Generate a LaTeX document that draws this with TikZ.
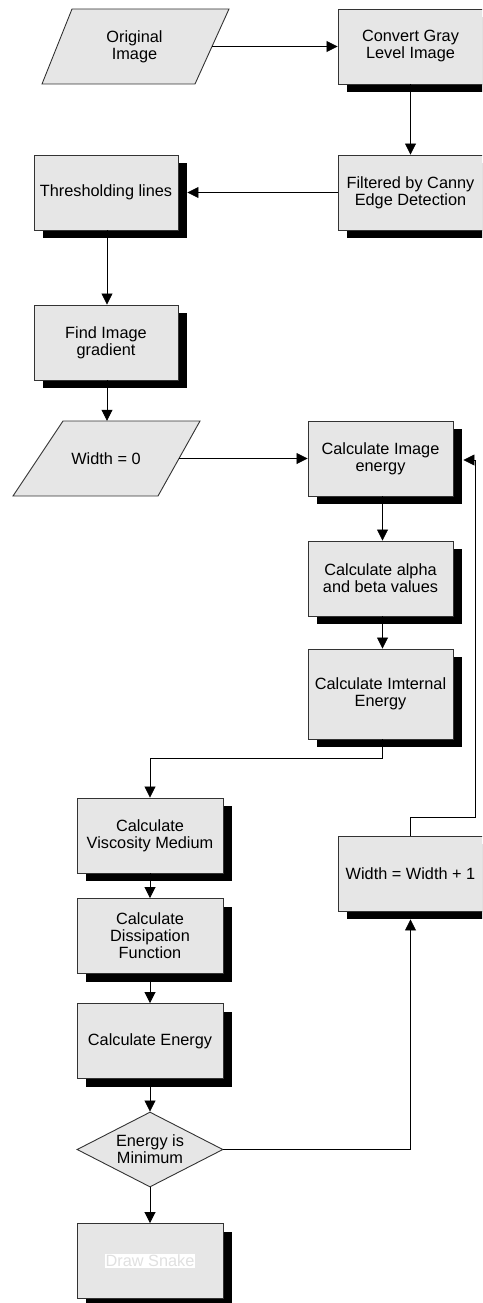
\documentclass[tikz,border=0pt]{standalone}
\usepackage{fontspec}
\setmainfont{Liberation Sans}
\usetikzlibrary{shapes.geometric,shadows,arrows.meta}

\definecolor{boxfill}{HTML}{E6E6E6}
\definecolor{edge}{HTML}{333333}

\tikzset{
  txt/.style={align=center, font=\fontsize{16.3}{17}\selectfont, inner sep=0pt},
  base/.style={txt, draw=edge, line width=0.9pt, fill=boxfill},
  procbox/.style={base, rectangle, minimum width=145pt, minimum height=75pt,
    drop shadow={shadow xshift=8.5pt, shadow yshift=-8pt, fill=black, opacity=1}},
  ioshape/.style={draw=edge, line width=0.9pt, fill=boxfill},
  iobox/.style={txt, rectangle, minimum height=75pt},
  decision/.style={base, diamond, aspect=1.95, minimum width=146pt, minimum height=75pt},
  flow/.style={draw=black, line width=0.8pt, -{Triangle[length=11pt,width=11pt]}},
}

\begin{document}
\begin{tikzpicture}[x=1pt, y=-1pt]
\useasboundingbox (0,0) rectangle (482,1303);
\clip (0,0) rectangle (482,1303);

% input / output parallelograms, with a text node spanning their side midpoints
\draw[ioshape] (72,9) -- (229,9) -- (195,84) -- (42,84) -- cycle;
\node[iobox, minimum width=155pt] (orig) at (134.5,46.5) {Original\\Image};
\draw[ioshape] (63,421) -- (200,421) -- (158,496) -- (13,496) -- cycle;
\node[iobox, minimum width=141pt, text depth=0pt] (wzero) at (108.5,458.5) {};
\node[txt] (wzerotxt) at (106,458.5) {Width = 0};

% process boxes
\node[procbox] (conv)   at (410.5,46.5)  {Convert Gray\\Level Image};
\node[procbox] (canny)  at (410.5,192.5) {Filtered by Canny\\Edge Detection};
\node[procbox, minimum width=144pt] (thresh) at (106,192.5) {Thresholding lines};
\node[procbox, minimum width=144pt] (grad)   at (106,342.5) {Find Image\\gradient};
\node[procbox] (energy) at (380.5,458.5) {Calculate Image\\energy};
\node[procbox] (alpha)  at (380.5,578.5) {Calculate alpha\\and beta values};
\node[procbox, minimum height=90pt] (intern) at (380.5,694) {Calculate Imternal\\Energy};
\node[procbox, minimum width=146pt] (visc)   at (150,835.5) {Calculate\\Viscosity Medium};
\node[procbox, minimum width=146pt] (dissip) at (150,936)   {Calculate\\Dissipation\\Function};
\node[procbox, minimum width=146pt] (calce)  at (150,1041)  {Calculate Energy};
\node[decision] (minq) at (150,1149.5) {Energy is\\Minimum};
\node[procbox, minimum width=146pt] (snake)  at (150,1261)  {};
\node[txt, fill=white, text=black!12, inner sep=1pt] (snaketxt) at (snake.center) {Draw Snake};
\node[procbox] (wplus)  at (410.5,873.5) {Width = Width + 1};

% helper points of the routed connectors
\coordinate (bend1) at (0,758);
\coordinate (loopy) at (0,817);
\coordinate (loopx) at (475,0);

% connectors
\draw[flow] (orig.east) -- (conv.west);
\draw[flow] (conv) -- (canny);
\draw[flow] (canny.west) -- ([xshift=9pt]thresh.east);
\draw[flow] ([xshift=1pt]thresh.south) -- ([xshift=1pt]grad.north);
\draw[flow] ([xshift=1pt]grad.south) -- ([xshift=1pt]grad.south |- wzero.north);
\draw[flow] (wzero.east) -- (energy.west);
\draw[flow] ([xshift=2pt]energy.south) -- ([xshift=2pt]alpha.north);
\draw[flow] ([xshift=2pt]alpha.south) -- ([xshift=2pt]intern.north);
\draw[flow] ([xshift=2pt]intern.south) |- (bend1 -| visc.north) -- (visc.north);
\draw[flow] (visc) -- (dissip);
\draw[flow] (dissip) -- (calce);
\draw[flow] (calce) -- (minq);
\draw[flow] (minq) -- (snake);
\draw[flow] (minq.east) -| ([yshift=-8pt]wplus.south);
\draw[flow] (wplus.north) |- (loopx |- loopy) |- ([xshift=10pt,yshift=-1.5pt]energy.east);
\end{tikzpicture}
\end{document}
